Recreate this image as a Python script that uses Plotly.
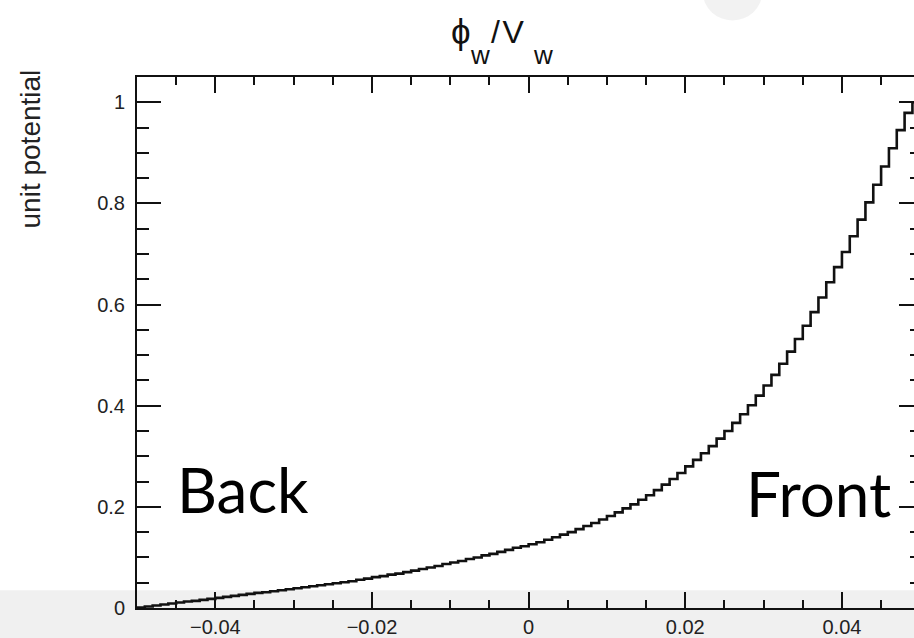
import numpy as np
import plotly.graph_objects as go

# ---- data: 100-bin histogram of unit potential phi_w/V_w across the slab ----
x_low = -0.05
x_high = 0.05
potential = [
    0.001, 0.003, 0.005, 0.007, 0.009, 0.011, 0.013, 0.014, 0.016, 0.018,
    0.020, 0.022, 0.024, 0.026, 0.028, 0.030, 0.031, 0.033, 0.035, 0.037,
    0.039, 0.041, 0.043, 0.045, 0.047, 0.049, 0.051, 0.053, 0.056, 0.058,
    0.061, 0.063, 0.066, 0.068, 0.071, 0.074, 0.077, 0.080, 0.083, 0.087,
    0.090, 0.093, 0.097, 0.100, 0.104, 0.107, 0.111, 0.115, 0.119, 0.122,
    0.126, 0.130, 0.135, 0.140, 0.145, 0.150, 0.156, 0.162, 0.168, 0.175,
    0.182, 0.189, 0.197, 0.205, 0.214, 0.223, 0.233, 0.244, 0.255, 0.267,
    0.280, 0.293, 0.306, 0.320, 0.335, 0.350, 0.366, 0.383, 0.401, 0.420,
    0.440, 0.461, 0.483, 0.507, 0.532, 0.558, 0.585, 0.614, 0.644, 0.674,
    0.704, 0.735, 0.768, 0.802, 0.837, 0.873, 0.909, 0.945, 0.979, 1.000,
]
x_tick_vals = [-0.04, -0.02, 0.0, 0.02, 0.04]
y_tick_vals = [0, 0.2, 0.4, 0.6, 0.8, 1.0]
title_parts = ["ϕ", "w", "/\u200aV", "w"]
y_title_text = "unit potential"
left_label = "Back"
right_label = "Front"

n_bins = len(potential)
edges = np.linspace(x_low, x_high, n_bins + 1)
step_y = potential + [potential[-1]]

# ---- layout geometry (pixels) ----
W, H = 914, 638
ML, MT, MB = 137, 77, 26
PW, PH = W - ML, H - MT - MB


def px(xp):
    return (xp - ML) / PW


def py(yp):
    return (H - MB - yp) / PH


INK = "#111111"
SANS = "Liberation Sans, Arial, DejaVu Sans, sans-serif"
TICK_FONT = dict(family=SANS, size=20, color="#222222")
SUB_FONT = dict(family=SANS, size=26, color="#111111")

fig = go.Figure()
fig.add_trace(go.Scatter(
    x=edges, y=step_y, mode="lines", line=dict(color=INK, width=2.6, shape="hv"),
    hoverinfo="skip", showlegend=False,
))
# invisible copy to carry the right-hand tick axis
fig.add_trace(go.Scatter(
    x=edges, y=step_y, mode="lines", line=dict(color="rgba(0,0,0,0)", width=0),
    yaxis="y2", hoverinfo="skip", showlegend=False,
))

title_annotations = [
    dict(text=title_parts[0], x=px(449), y=py(31), font=dict(family=SANS, size=35, color="#111111")),
    dict(text=title_parts[1], x=px(468), y=py(55), font=SUB_FONT),
    dict(text=title_parts[2], x=px(489), y=py(32), font=dict(family=SANS, size=32, color="#111111")),
    dict(text=title_parts[3], x=px(531), y=py(55), font=SUB_FONT),
]
for a in title_annotations:
    a.update(xref="paper", yref="paper", xanchor="left", yanchor="middle", showarrow=False)

fig.update_layout(
    width=W, height=H, autosize=False,
    margin=dict(l=ML, r=0, t=MT, b=MB),
    paper_bgcolor="white", plot_bgcolor="white",
    xaxis=dict(
        range=[x_low, 0.0492], showgrid=False, zeroline=False,
        showline=True, linewidth=2, linecolor=INK, mirror="ticks",
        tickvals=x_tick_vals, ticks="inside", ticklen=16, tickwidth=1.5, tickcolor=INK,
        tickfont=TICK_FONT, ticklabelstandoff=0,
        minor=dict(dtick=0.005, tick0=0, ticks="inside", ticklen=8, tickwidth=1.5, tickcolor=INK),
    ),
    yaxis=dict(
        range=[0, 1.05], showgrid=False, zeroline=False,
        showline=True, linewidth=2, linecolor=INK, mirror=False,
        tickvals=y_tick_vals, ticks="inside", ticklen=24, tickwidth=1.5, tickcolor=INK,
        tickfont=TICK_FONT, ticklabelstandoff=6,
        minor=dict(dtick=0.05, tick0=0, ticks="inside", ticklen=12, tickwidth=1.5, tickcolor=INK),
    ),
    yaxis2=dict(
        overlaying="y", side="right", anchor="x", matches="y",
        range=[0, 1.05], showgrid=False, zeroline=False, showline=False,
        showticklabels=False,
        tickvals=y_tick_vals, ticks="inside", ticklen=15, tickwidth=1.5, tickcolor=INK,
        minor=dict(dtick=0.05, tick0=0, ticks="inside", ticklen=4, tickwidth=1.5, tickcolor=INK),
    ),
    shapes=[
        dict(type="rect", xref="paper", yref="paper", x0=-0.2, x1=1.0,
             y0=py(H + 5), y1=py(594), fillcolor="#f0f0f0", line=dict(width=0), layer="below"),
        dict(type="circle", xref="paper", yref="paper", x0=px(703), x1=px(762),
             y0=py(20), y1=py(-36), fillcolor="#f1f1f1", opacity=0.9,
             line=dict(width=0), layer="below"),
    ],
    annotations=title_annotations + [
        dict(text=y_title_text, textangle=-90, xref="paper", yref="paper",
             x=px(30), y=py(150), xanchor="center", yanchor="middle", showarrow=False,
             font=dict(family=SANS, size=28, color="#222222")),
        dict(text=left_label, xref="x", yref="y", x=-0.0451, y=0.235,
             xanchor="left", yanchor="middle", showarrow=False,
             font=dict(family="Lato, sans-serif", size=62, color="#000000")),
        dict(text=right_label, xref="x", yref="y", x=0.0465, y=0.228,
             xanchor="right", yanchor="middle", showarrow=False,
             font=dict(family="Lato, sans-serif", size=62, color="#000000")),
    ],
)

fig.write_html("out.html")
